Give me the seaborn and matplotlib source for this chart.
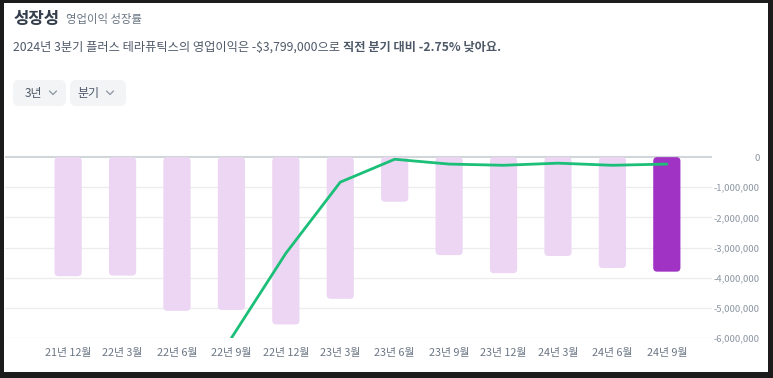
import numpy as np
import pandas as pd
import matplotlib.pyplot as plt
import seaborn as sns
from matplotlib.patches import FancyBboxPatch, Rectangle
from matplotlib.ticker import FuncFormatter

# 데이터
quarters = ['21년 12월', '22년 3월', '22년 6월', '22년 9월', '22년 12월', '23년 3월',
            '23년 6월', '23년 9월', '23년 12월', '24년 3월', '24년 6월', '24년 9월']
op_income = [-3950000, -3930000, -5100000, -5070000, -5550000, -4700000,
             -1480000, -3250000, -3850000, -3280000, -3680000, -3799000]
# 성장률 선 (숨은 보조축, 화면 비율 기준으로 읽은 값)
growth = [np.nan, np.nan, np.nan, -6.0, -3.19, -0.83,
          -0.07, -0.23, -0.27, -0.20, -0.27, -0.23]
y_ticks = [0, -1000000, -2000000, -3000000, -4000000, -5000000, -6000000]

bar_light = '#ecd6f3'
bar_main = '#a033c4'
line_color = '#1bbf78'

sns.set_theme(style='white')
plt.rcParams['font.family'] = ['Noto Sans CJK KR', 'DejaVu Sans']
plt.rcParams['axes.unicode_minus'] = False

W, H = 773, 378
fig = plt.figure(figsize=(W / 100, H / 100), dpi=100)
fig.patch.set_facecolor('#1c1c1c')

# 배경/장식용 픽셀 좌표 축
bg = fig.add_axes([0, 0, 1, 1], zorder=0)
bg.set_xlim(0, W)
bg.set_ylim(H, 0)
bg.axis('off')
bg.add_patch(Rectangle((4, 3), 764, 369, facecolor='white', edgecolor='none'))

# 제목
bg.text(13, 19, '성장성', fontsize=12, fontweight='bold', color='#333d4b', va='center')
bg.text(66, 20, '영업이익 성장률', fontsize=8.2, color='#6b7684', va='center')
t1 = bg.text(13, 47, '2024년 3분기 플러스 테라퓨틱스의 영업이익은 -$3,799,000으로 ',
             fontsize=8.8, color='#4e5968', va='center')
fig.canvas.draw()
bb = t1.get_window_extent()
x_end = bb.x1  # 픽셀 단위
bg.text(x_end, 47, '직전 분기 대비 -2.75% 낮아요.', fontsize=8.8, fontweight='bold',
        color='#4e5968', va='center')

# 버튼
for (x0, x1, label, lx, cx) in [(13, 66, '3년', 33, 53), (70, 126, '분기', 88, 110)]:
    bg.add_patch(FancyBboxPatch((x0, 80), x1 - x0, 26, boxstyle='round,pad=0,rounding_size=6',
                                facecolor='#f2f4f6', edgecolor='none'))
    bg.text(lx, 93, label, fontsize=8.6, color='#4e5968', ha='center', va='center')
    bg.plot([cx - 3.5, cx, cx + 3.5], [91, 94.5, 91], color='#8b95a1', lw=0.9)

# 메인 축
ax_l, ax_r, ax_t, ax_b = 5, 712, 127, 338
ax = fig.add_axes([ax_l / W, (H - ax_b) / H, (ax_r - ax_l) / W, (ax_b - ax_t) / H], zorder=1)
ax.set_facecolor('none')

colors = [bar_light] * (len(quarters) - 1) + [bar_main]
df = pd.DataFrame({'quarter': quarters, 'value': op_income})
sns.barplot(data=df, x='quarter', y='value', hue='quarter', palette=colors,
            legend=False, width=0.5, ax=ax, saturation=1)

x_lo, x_hi = -1.16, 11.83
y_lo, y_hi = -6000000, 1000000
ax.set_xlim(x_lo, x_hi)
ax.set_ylim(y_lo, y_hi)

# 둥근 막대로 교체
px_x = (x_hi - x_lo) / (ax_r - ax_l)
px_y = (y_hi - y_lo) / (ax_b - ax_t)
r = 4 * px_x
for p in list(ax.patches):
    x, y = p.get_x(), p.get_y()
    w, h = p.get_width(), p.get_height()
    fc = p.get_facecolor()
    p.remove()
    if h < 0:
        y, h = y + h, -h
    ax.add_patch(FancyBboxPatch((x, y), w, h, boxstyle=f'round,pad=0,rounding_size={r}',
                                mutation_aspect=px_y / px_x, facecolor=fc, edgecolor='none',
                                zorder=2))

# 격자선
for t in y_ticks:
    if t == 0:
        ax.axhline(t, color='#d1d6db', lw=1.5, zorder=1.5)
    else:
        ax.axhline(t, color='#ececec', lw=0.9, zorder=1)

# 성장률 선 (보조축, 눈금 숨김)
ax2 = ax.twinx()
sns.lineplot(x=np.arange(len(quarters)), y=growth, color=line_color, lw=2, ax=ax2, zorder=3)
ax2.set_ylim(-6.0, 1.0)
ax2.set_yticks([])
ax2.set_xlim(x_lo, x_hi)
sns.despine(ax=ax2, left=True, bottom=True, right=True, top=True)

ax.set_yticks(y_ticks)
ax.yaxis.tick_right()
ax.yaxis.set_major_formatter(FuncFormatter(lambda v, _: f'{int(v):,}'))
ax.tick_params(axis='y', length=0, pad=34.5, labelsize=6.8, labelcolor='#8b95a1')
for lab in ax.get_yticklabels():
    lab.set_horizontalalignment('right')
ax.tick_params(axis='x', length=0, pad=7, labelsize=7.8, labelcolor='#6b7684')
ax.set_xlabel('')
ax.set_ylabel('')
sns.despine(ax=ax, left=True, bottom=True, right=True, top=True)

fig.savefig('out.png', dpi=100, facecolor=fig.get_facecolor())
